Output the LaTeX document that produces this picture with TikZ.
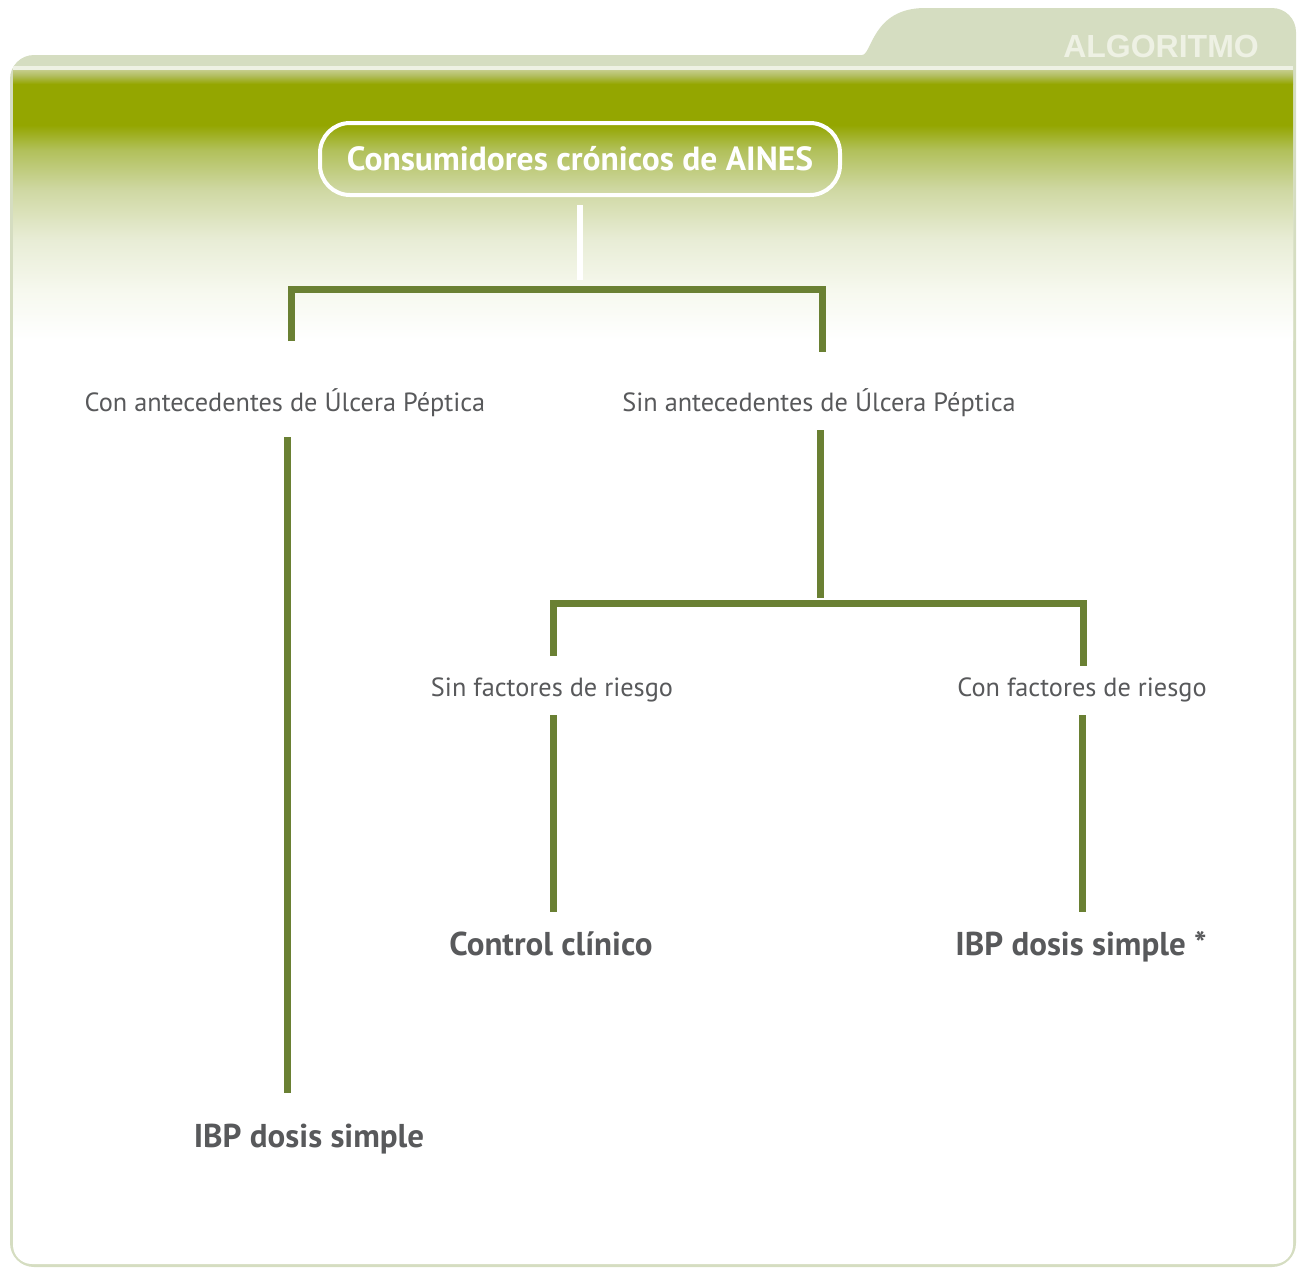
\documentclass[tikz,border=0pt]{standalone}
\usepackage{fontspec}
\setmainfont{PT Sans}
\newfontfamily\algfont{Liberation Sans}
\definecolor{tabgreen}{HTML}{D5DDC1}
\definecolor{olive}{HTML}{94A600}
\definecolor{linegreen}{HTML}{6A8033}
\definecolor{txtgray}{HTML}{58595B}
\definecolor{algwhite}{HTML}{EEF1E4}
\pgfdeclareverticalshading{hdr}{100bp}{%
  rgb(0bp)=(1,1,1); rgb(25bp)=(1,1,1);
  rgb(34.3bp)=(0.965,0.973,0.933);
  rgb(43.5bp)=(0.910,0.929,0.839);
  rgb(52.8bp)=(0.812,0.847,0.639);
  rgb(60.2bp)=(0.694,0.753,0.353);
  rgb(64.8bp)=(0.580,0.651,0.0);
  rgb(72.4bp)=(0.580,0.651,0.0);
  rgb(74bp)=(0.700,0.745,0.380);
  rgb(75bp)=(0.773,0.804,0.541);
  rgb(100bp)=(0.773,0.804,0.541)}
\tikzset{
  conn/.style={draw=linegreen, line width=7pt},
  lab/.style={text=txtgray, font=\fontsize{26.3}{29}\selectfont, inner sep=0pt, text height=0.72em, text depth=0.22em},
  result/.style={text=txtgray, font=\fontsize{33}{36}\selectfont\bfseries, inner sep=0pt, text height=0.72em, text depth=0.22em},
}
\begin{document}
\begin{tikzpicture}[x=1pt,y=-1pt]
\useasboundingbox (0,0) rectangle (1301,1269);
% outer frame with tab
\fill[tabgreen, rounded corners=24pt] (10,600) -- (10,55) -- (838,55)
  [sharp corners] .. controls (872,55) and (872,8) .. (925,8)
  [rounded corners=24pt] -- (1296,8) -- (1296,1267) -- (10,1267) -- cycle;
% inner body
\fill[white, rounded corners=19pt] (13,66) rectangle (1293,1264);
\shade[shading=hdr] (13,70) rectangle (1293,340);
\fill[algwhite] (13,66) rectangle (1293,70);
% ALGORITMO
\node[anchor=east, text=algwhite, font=\algfont\fontsize{32}{34}\selectfont\bfseries, inner sep=0pt] (alg) at (1259,46) {ALGORITMO};
% top box
\node[draw=white, line width=4pt, rounded corners=30pt, minimum width=520pt, minimum height=72pt, text=white, font=\fontsize{33.5}{36}\selectfont\bfseries] (top) at (580,159) {Consumidores crónicos de AINES};
\coordinate (tw) at (580,280);
\draw[white, line width=6pt] ([yshift=-8pt]top.south) -- (tw);
% level 1
\node[lab] (conA) at (285,409) {Con antecedentes de Úlcera Péptica};
\node[lab] (sinA) at (819,409) {Sin antecedentes de Úlcera Péptica};
\coordinate (b1l) at (291,289);
\coordinate (b1r) at (822,289);
\draw[conn] (291,341) -- (b1l) -- (b1r) -- (822,352);
% left branch
\node[result] (ibp1) at (309,1145) {IBP dosis simple};
\draw[conn] (287,437) -- (287,1093);
% right branch
\coordinate (b2l) at (553,603);
\coordinate (b2r) at (1083,603);
\draw[conn] (820,430) -- (820,598);
\node[lab] (sinF) at (552,694) {Sin factores de riesgo};
\node[lab] (conF) at (1082,694) {Con factores de riesgo};
\draw[conn] (553,656) -- (b2l) -- (b2r) -- (1083,666);
\node[result] (ctrl) at (551,953) {Control clínico};
\node[result] (ibp2) at (1081,953) {IBP dosis simple *};
\draw[conn] (553,715) -- (553,912);
\draw[conn] (1082,715) -- (1082,912);
\end{tikzpicture}
\end{document}
